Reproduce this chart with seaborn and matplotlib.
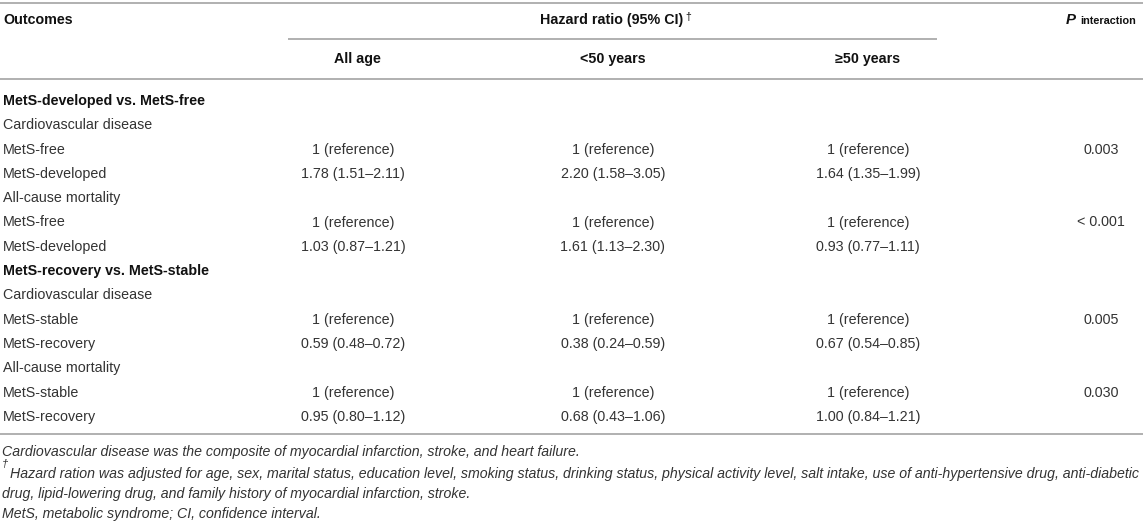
import numpy as np
import pandas as pd
import seaborn as sns
import matplotlib.pyplot as plt

# table content
row_labels = ['MetS-developed vs. MetS-free', 'Cardiovascular disease', 'MetS-free', 'MetS-developed',
              'All-cause mortality', 'MetS-free', 'MetS-developed',
              'MetS-recovery vs. MetS-stable', 'Cardiovascular disease', 'MetS-stable', 'MetS-recovery',
              'All-cause mortality', 'MetS-stable', 'MetS-recovery']
row_bold = [True, False, False, False, False, False, False,
            True, False, False, False, False, False, False]
all_age = ['', '', '1 (reference)', '1.78 (1.51–2.11)', '', '1 (reference)', '1.03 (0.87–1.21)',
           '', '', '1 (reference)', '0.59 (0.48–0.72)', '', '1 (reference)', '0.95 (0.80–1.12)']
under_50 = ['', '', '1 (reference)', '2.20 (1.58–3.05)', '', '1 (reference)', '1.61 (1.13–2.30)',
            '', '', '1 (reference)', '0.38 (0.24–0.59)', '', '1 (reference)', '0.68 (0.43–1.06)']
over_50 = ['', '', '1 (reference)', '1.64 (1.35–1.99)', '', '1 (reference)', '0.93 (0.77–1.11)',
           '', '', '1 (reference)', '0.67 (0.54–0.85)', '', '1 (reference)', '1.00 (0.84–1.21)']
p_inter = ['', '', '0.003', '', '', '< 0.001', '',
           '', '', '0.005', '', '', '0.030', '']
col_headers = ['All age', '<50 years', '≥50 years']
footnotes = ['Cardiovascular disease was the composite of myocardial infarction, stroke, and heart failure.',
             'Hazard ration was adjusted for age, sex, marital status, education level, smoking status, '
             'drinking status, physical activity level, salt intake, use of anti-hypertensive drug, anti-diabetic',
             'drug, lipid-lowering drug, and family history of myocardial infarction, stroke.',
             'MetS, metabolic syndrome; CI, confidence interval.']

df = pd.DataFrame({'label': row_labels, 'bold': row_bold, 'all': all_age,
                   'u50': under_50, 'o50': over_50, 'p': p_inter})

sns.set_style('white')
plt.rcParams['font.family'] = ['Liberation Sans', 'DejaVu Sans']

W, H = 1143, 527
fig = plt.figure(figsize=(W / 100, H / 100), dpi=100)
ax = fig.add_axes([0, 0, 1, 1])
ax.set_xlim(0, W)
ax.set_ylim(H, 0)
ax.axis('off')

body = '#333333'
head = '#111111'
line_c = '#b0b0b0'
fs = 10.3

# rules
ax.hlines([3, 79, 434], 0, W, color=line_c, lw=1.4)
ax.hlines(39, 288, 937, color=line_c, lw=1.4)

# header
ax.text(3, 20, 'Outcomes', fontsize=fs, fontweight='bold', color=head, va='center')
hr = ax.text(612, 20, 'Hazard ratio (95% CI)', fontsize=fs, fontweight='bold', color=head,
             va='center', ha='center')
ax.annotate('†', xy=(1, 1), xycoords=hr, xytext=(1, 1), textcoords='offset points',
            fontsize=7.5, color=head, va='top', ha='left')
col_x = [357, 613, 868]
for cx, lab in zip(col_x, col_headers):
    ax.text(cx, 59, lab, fontsize=fs, fontweight='bold', color=head, va='center', ha='center')
pt = ax.text(1066, 20, 'P', fontsize=fs + 0.5, fontweight='bold', fontstyle='italic',
             color=head, va='center', ha='left')
ax.annotate('interaction', xy=(1, 0), xycoords=pt, xytext=(3, 1), textcoords='offset points',
            fontsize=7.8, fontweight='bold', color=head, va='bottom', ha='left')

# body rows
y0, pitch = 101, 24.3
for i, r in df.iterrows():
    y = y0 + i * pitch
    if r['bold']:
        ax.text(3, y, r['label'], fontsize=fs, fontweight='bold', color=head, va='center')
    else:
        ax.text(3, y, r['label'], fontsize=fs, color=body, va='center')
    for cx, key in zip(col_x, ['all', 'u50', 'o50']):
        if r[key]:
            ax.text(cx - 4 if key == 'all' else cx, y, r[key], fontsize=fs, color=body,
                    va='center', ha='center')
    if r['p']:
        ax.text(1101, y, r['p'], fontsize=fs, color=body, va='center', ha='center')

# footnotes
ffam = ['Liberation Sans Narrow', 'Liberation Sans', 'DejaVu Sans']
ffs = 10.2
ax.text(2, 452, footnotes[0], fontsize=ffs, fontstyle='italic', family=ffam, color=body, va='center')
ax.text(2, 464, '†', fontsize=8, fontstyle='italic', family=ffam, color=body, va='center')
ax.text(10, 474, footnotes[1], fontsize=ffs, fontstyle='italic', family=ffam, color=body, va='center')
ax.text(2, 494, footnotes[2], fontsize=ffs, fontstyle='italic', family=ffam, color=body, va='center')
ax.text(2, 514, footnotes[3], fontsize=ffs, fontstyle='italic', family=ffam, color=body, va='center')

fig.savefig('out.png', dpi=100)
